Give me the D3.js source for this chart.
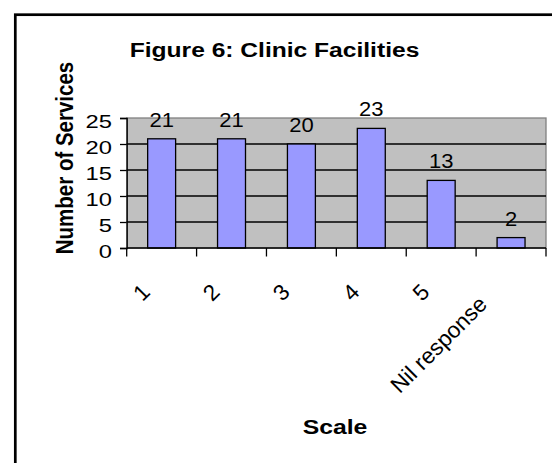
<!DOCTYPE html>
<html>
<head>
<meta charset="utf-8">
<script src="https://cdn.jsdelivr.net/npm/d3@7"></script>
<style>
  body { margin: 0; background: #fff; }
  svg { display: block; font-family: "Liberation Sans", Arial, sans-serif; }
</style>
</head>
<body>
<div id="chart"></div>
<script>
// dados
const categories = ["1", "2", "3", "4", "5", "Nil response"];
const services = [21, 21, 20, 23, 13, 2];
const yTicks = [0, 5, 10, 15, 20, 25];
const titleText = "Figure 6: Clinic Facilities";
const xTitle = "Scale";
const yTitle = "Number of Services";

const width = 552;
const height = 463;

// área do gráfico
const plot = { left: 126.7, right: 546, top: 118, bottom: 248 };

const svg = d3
  .select("#chart")
  .append("svg")
  .attr("width", width)
  .attr("height", height);

// moldura externa
svg
  .append("rect")
  .attr("x", 15.3)
  .attr("y", 14.7)
  .attr("width", 700)
  .attr("height", 600)
  .style("fill", "#fff")
  .style("stroke", "#000")
  .style("stroke-width", 2.7);

// Escalas
const x = d3
  .scaleBand()
  .domain(categories)
  .range([plot.left, plot.right])
  .paddingInner(0.6)
  .paddingOuter(0.3);

const xEdge = d3
  .scaleLinear()
  .domain([0, categories.length])
  .range([plot.left, plot.right]);

const y = d3
  .scaleLinear()
  .domain([0, 25])
  .range([plot.bottom, plot.top]);

// fundo cinza
svg
  .append("rect")
  .attr("x", plot.left)
  .attr("y", plot.top)
  .attr("width", plot.right - plot.left)
  .attr("height", plot.bottom - plot.top)
  .style("fill", "#c0c0c0")
  .style("stroke", "#808080")
  .style("stroke-width", 1.3);

// linhas de grade
svg
  .selectAll(".grid")
  .data(yTicks.filter((d) => d > 0 && d < 25))
  .enter()
  .append("line")
  .attr("x1", plot.left)
  .attr("x2", plot.right)
  .attr("y1", (d) => y(d))
  .attr("y2", (d) => y(d))
  .style("stroke", "#000")
  .style("stroke-width", 1.3);

// barras
svg
  .selectAll(".bar")
  .data(services)
  .enter()
  .append("rect")
  .attr("x", (d, i) => x(categories[i]))
  .attr("y", (d) => y(d))
  .attr("width", x.bandwidth())
  .attr("height", (d) => y(0) - y(d))
  .style("fill", "#9999ff")
  .style("stroke", "#000")
  .style("stroke-width", 1.3);

// Eixo Y
svg
  .append("g")
  .attr("transform", `translate(${plot.left},0)`)
  .call(d3.axisLeft(y).tickValues(yTicks).tickSize(6.7).tickFormat(""))
  .call((g) => g.selectAll("path, line").style("stroke", "#000").style("stroke-width", 1.3));

svg
  .selectAll(".ylab")
  .data(yTicks)
  .enter()
  .append("text")
  .attr("transform", (d) => `translate(112,${y(d) + 9.5}) scale(1.25,1)`)
  .attr("text-anchor", "end")
  .style("font-size", "19px")
  .text((d) => d);

// Eixo X
svg
  .append("line")
  .attr("x1", plot.left)
  .attr("x2", plot.right)
  .attr("y1", plot.bottom)
  .attr("y2", plot.bottom)
  .style("stroke", "#000")
  .style("stroke-width", 1.3);

svg
  .selectAll(".xtick")
  .data(d3.range(categories.length + 1))
  .enter()
  .append("line")
  .attr("x1", (d) => xEdge(d))
  .attr("x2", (d) => xEdge(d))
  .attr("y1", plot.bottom)
  .attr("y2", plot.bottom + 8.5)
  .style("stroke", "#000")
  .style("stroke-width", 1.3);

// rótulos inclinados
svg
  .selectAll(".xlab")
  .data(categories)
  .enter()
  .append("text")
  .attr("text-anchor", "end")
  .style("font-size", "22.5px")
  .text((d) => d)
  .attr("transform", function (d) {
    const len = this.getComputedTextLength();
    const cx = x(d) + x.bandwidth() / 2 - 9 - 0.11 * len;
    const cy = 292 + 0.11 * len;
    return `translate(${cx},${cy}) rotate(-45)`;
  });

// valores sobre as barras
svg
  .selectAll(".val")
  .data(services)
  .enter()
  .append("text")
  .attr("transform", (d, i) => `translate(${x(categories[i]) + x.bandwidth() / 2},${y(d) - 12}) scale(1.1,1)`)
  .attr("text-anchor", "middle")
  .style("font-size", "20px")
  .text((d) => d);

// títulos
svg
  .append("text")
  .attr("transform", "translate(274.5,57) scale(1.23,1)")
  .attr("text-anchor", "middle")
  .style("font-size", "20px")
  .style("font-weight", "bold")
  .text(titleText);

svg
  .append("text")
  .attr("transform", "translate(72.5,158) scale(1.2,1) rotate(-90)")
  .attr("text-anchor", "middle")
  .style("font-size", "20.5px")
  .style("font-weight", "bold")
  .text(yTitle);

svg
  .append("text")
  .attr("transform", "translate(335,434) scale(1.18,1)")
  .attr("text-anchor", "middle")
  .style("font-size", "21px")
  .style("font-weight", "bold")
  .text(xTitle);
</script>
</body>
</html>
